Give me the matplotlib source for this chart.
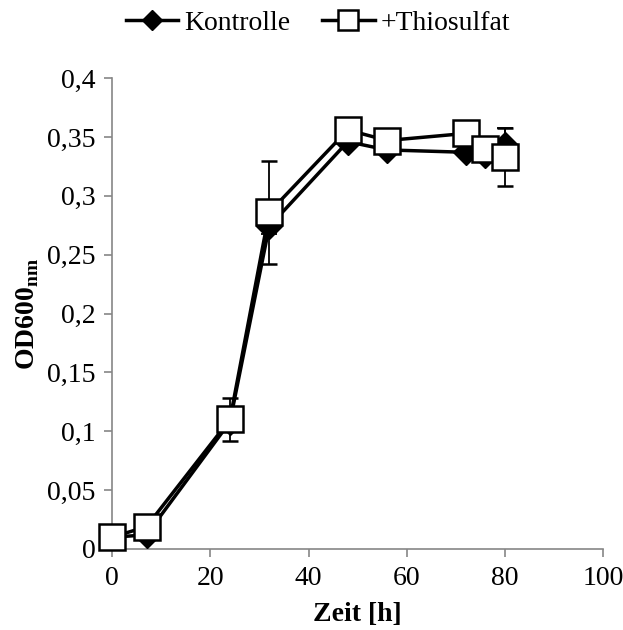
import matplotlib
matplotlib.use("Agg")
import matplotlib.pyplot as plt
from matplotlib.lines import Line2D
from matplotlib.ticker import FuncFormatter

# -------- DATA --------
zeit = [0, 7, 24, 32, 48, 56, 72, 76, 80]
kontrolle = [0.010, 0.012, 0.108, 0.274, 0.346, 0.339, 0.337, 0.335, 0.343]
kontrolle_err = [0.002, 0.002, 0.004, 0.006, 0.004, 0.003, 0.003, 0.003, 0.015]
thiosulfat = [0.010, 0.019, 0.110, 0.286, 0.356, 0.347, 0.353, 0.340, 0.333]
thiosulfat_err = [0.002, 0.003, 0.018, 0.044, 0.004, 0.004, 0.004, 0.004, 0.025]

x_ticks = [0, 20, 40, 60, 80, 100]
y_ticks = [0, 0.05, 0.1, 0.15, 0.2, 0.25, 0.3, 0.35, 0.4]

# -------- STYLE --------
plt.rcParams["font.family"] = ["Liberation Serif", "DejaVu Serif"]
plt.rcParams["mathtext.fontset"] = "custom"
plt.rcParams["mathtext.rm"] = "Liberation Serif"
plt.rcParams["mathtext.bf"] = "Liberation Serif:bold"
axis_grey = "#868686"
fs = 20

fig = plt.figure(figsize=(6.23, 6.30), dpi=100)
ax = fig.add_axes([0.180, 0.1286, 0.788, 0.7474])

ax.errorbar(zeit, kontrolle, yerr=kontrolle_err, color="black", lw=2.5,
            marker="D", ms=13, mfc="black", mec="black",
            ecolor="black", elinewidth=1.3, capsize=6, capthick=1.3,
            zorder=3, clip_on=False)
ax.errorbar(zeit, thiosulfat, yerr=thiosulfat_err, color="black", lw=2.5,
            marker="s", ms=19, mfc="white", mec="black", mew=1.8,
            ecolor="black", elinewidth=1.3, capsize=6, capthick=1.3,
            zorder=4, clip_on=False)

ax.set_xlim(0, 100)
ax.set_ylim(0, 0.4)
ax.set_xticks(x_ticks)
ax.set_yticks(y_ticks)
ax.yaxis.set_major_formatter(FuncFormatter(lambda v, p: f"{v:g}".replace(".", ",")))

for side in ["top", "right"]:
    ax.spines[side].set_visible(False)
for side in ["left", "bottom"]:
    ax.spines[side].set_color(axis_grey)
    ax.spines[side].set_linewidth(1.2)
ax.tick_params(direction="out", length=6, width=1.2, color=axis_grey,
               labelsize=fs, pad=6)

ax.set_xlabel("Zeit [h]", fontsize=fs, fontweight="bold", labelpad=8)
ax.set_ylabel(r"OD600$_\mathbf{nm}$", fontsize=fs, fontweight="bold", labelpad=4)

handles = [
    Line2D([], [], color="black", lw=2.5, marker="D", ms=10, mfc="black"),
    Line2D([], [], color="black", lw=2.5, marker="s", ms=14, mfc="white", mew=1.8),
]
fig.legend(handles, ["Kontrolle", "+Thiosulfat"], loc="center",
           bbox_to_anchor=(0.51, 0.963), ncol=2, frameon=False,
           fontsize=fs, handlelength=1.9, columnspacing=1.15, handletextpad=0.2)

fig.savefig("out.png", dpi=100)
